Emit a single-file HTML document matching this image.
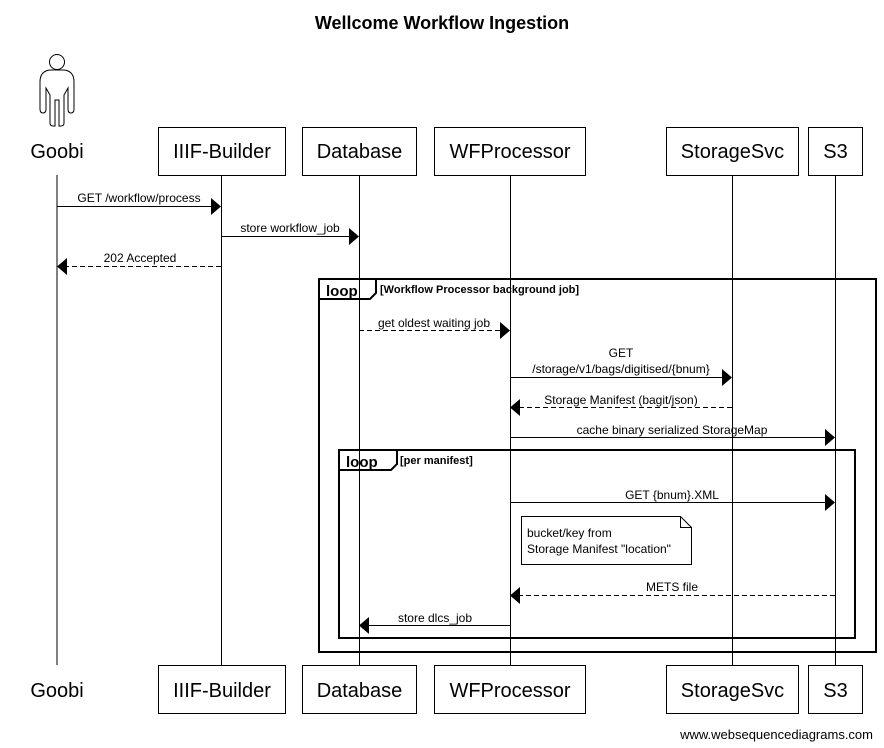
<!DOCTYPE html>
<html><head><meta charset="utf-8"><style>
html,body{margin:0;padding:0;background:#fff;}
svg{display:block;font-family:"Liberation Sans",Arial,sans-serif;}
</style></head><body>
<svg width="884" height="748" viewBox="0 0 884 748" xmlns="http://www.w3.org/2000/svg">
<rect width="884" height="748" fill="#fff"/>
<text x="442" y="29" text-anchor="middle" font-size="18" font-weight="bold">Wellcome Workflow Ingestion</text>

<!-- actor -->
<g fill="none" stroke="#000" stroke-width="1">
<circle cx="57" cy="62" r="7.5"/>
<path d="M50,70 L64,70 Q74,71 74,82 L74,109 Q74,113 71,113 Q68,113 68,109 L68,88 L64,95 L64,123 Q64,126 61,126 L59,126 L59,100 L55,100 L55,126 L53,126 Q50,126 50,123 L50,95 L46,88 L46,109 Q46,113 43,113 Q40,113 40,109 L40,82 Q40,71 50,70 Z"/>
</g>

<!-- lifelines -->
<g stroke="#000" stroke-width="1">
<line x1="57" y1="175" x2="57" y2="665"/>
<line x1="221.5" y1="175" x2="221.5" y2="665"/>
<line x1="359.5" y1="175" x2="359.5" y2="665"/>
<line x1="510.5" y1="175" x2="510.5" y2="665"/>
<line x1="732.5" y1="175" x2="732.5" y2="665"/>
<line x1="835.5" y1="175" x2="835.5" y2="665"/>
</g>

<!-- participant boxes -->
<g fill="#fff" stroke="#000" stroke-width="1">
<rect x="158.5" y="127.5" width="127" height="48"/>
<rect x="302.5" y="127.5" width="114" height="48"/>
<rect x="434.5" y="127.5" width="151" height="48"/>
<rect x="666.5" y="127.5" width="132" height="48"/>
<rect x="808.5" y="127.5" width="54" height="48"/>
<rect x="158.5" y="665.5" width="127" height="48"/>
<rect x="302.5" y="665.5" width="114" height="48"/>
<rect x="434.5" y="665.5" width="151" height="48"/>
<rect x="666.5" y="665.5" width="132" height="48"/>
<rect x="808.5" y="665.5" width="54" height="48"/>
</g>
<g font-size="20" text-anchor="middle">
<text x="57" y="158">Goobi</text>
<text x="222" y="158">IIIF-Builder</text>
<text x="359.5" y="158">Database</text>
<text x="510" y="158">WFProcessor</text>
<text x="732.5" y="158">StorageSvc</text>
<text x="835.5" y="158">S3</text>
<text x="57" y="697">Goobi</text>
<text x="222" y="697">IIIF-Builder</text>
<text x="359.5" y="697">Database</text>
<text x="510" y="697">WFProcessor</text>
<text x="732.5" y="697">StorageSvc</text>
<text x="835.5" y="697">S3</text>
</g>

<!-- loop frames -->
<g fill="none" stroke="#000" stroke-width="2">
<rect x="319" y="279" width="557" height="373"/>
<path d="M319,299 L370,299 L376,293 L376,279"/>
<rect x="339" y="450" width="516" height="188"/>
<path d="M339,470 L391,470 L397,464 L397,450"/>
</g>
<text x="326" y="296" font-size="15" font-weight="bold">loop</text>
<text x="380" y="293" font-size="11" font-weight="bold">[Workflow Processor background job]</text>
<text x="346" y="467" font-size="15" font-weight="bold">loop</text>
<text x="400" y="464" font-size="11" font-weight="bold">[per manifest]</text>

<!-- messages -->
<g stroke="#000" stroke-width="1">
<line x1="57" y1="206.5" x2="212" y2="206.5"/>
<line x1="221" y1="236.5" x2="350" y2="236.5"/>
<line x1="221" y1="266.5" x2="66" y2="266.5" stroke-dasharray="5,3"/>
<line x1="359" y1="330.5" x2="501" y2="330.5" stroke-dasharray="5,3"/>
<line x1="510" y1="377.5" x2="723" y2="377.5"/>
<line x1="732" y1="407.5" x2="519" y2="407.5" stroke-dasharray="5,3"/>
<line x1="510" y1="437.5" x2="826" y2="437.5"/>
<line x1="510" y1="502.5" x2="826" y2="502.5"/>
<line x1="835" y1="595.5" x2="519" y2="595.5" stroke-dasharray="5,3"/>
<line x1="510" y1="625.5" x2="368" y2="625.5"/>
</g>
<g fill="#000">
<polygon points="211,198 221,206.5 211,215"/>
<polygon points="349,228 359,236.5 349,245"/>
<polygon points="67,258 57,266.5 67,275"/>
<polygon points="500,322 510,330.5 500,339"/>
<polygon points="722,369 732,377.5 722,386"/>
<polygon points="520,399 510,407.5 520,416"/>
<polygon points="825,429 835,437.5 825,446"/>
<polygon points="825,494 835,502.5 825,511"/>
<polygon points="520,587 510,595.5 520,604"/>
<polygon points="369,617 359,625.5 369,634"/>
</g>
<g font-size="12" text-anchor="middle">
<text x="139" y="202">GET /workflow/process</text>
<text x="290" y="232">store workflow_job</text>
<text x="140" y="262">202 Accepted</text>
<text x="434" y="327">get oldest waiting job</text>
<text x="621" y="357">GET</text>
<text x="621" y="373">/storage/v1/bags/digitised/{bnum}</text>
<text x="621" y="404">Storage Manifest (bagit/json)</text>
<text x="672" y="434">cache binary serialized StorageMap</text>
<text x="672" y="499">GET {bnum}.XML</text>
<text x="672" y="591">METS file</text>
<text x="435" y="622">store dlcs_job</text>
</g>

<!-- note -->
<path d="M521.5,516.5 L680.5,516.5 L691.5,527.5 L691.5,564.5 L521.5,564.5 Z M680.5,516.5 L680.5,527.5 L691.5,527.5" fill="#fff" stroke="#000" stroke-width="1"/>
<text x="527" y="537" font-size="12">bucket/key from</text>
<text x="527" y="553" font-size="12">Storage Manifest "location"</text>

<text x="873" y="739" font-size="13" text-anchor="end">www.websequencediagrams.com</text>
</svg>
</body></html>
